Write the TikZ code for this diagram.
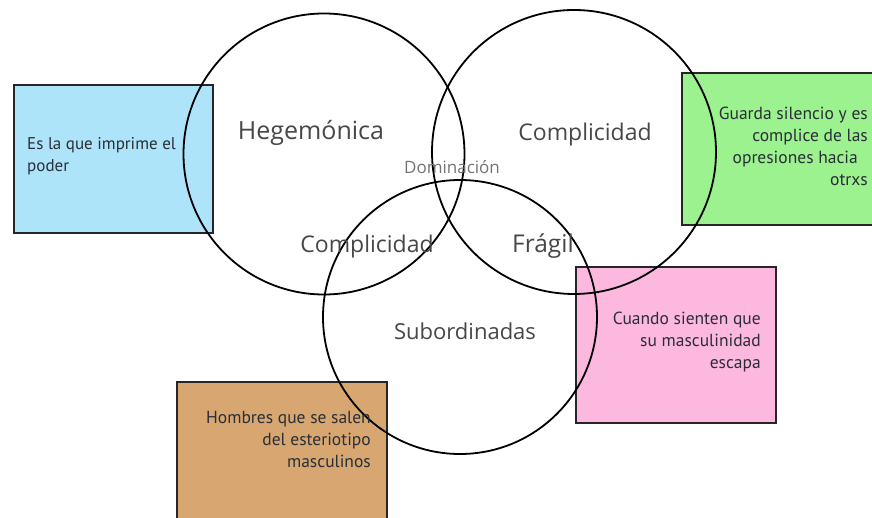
\documentclass[tikz,border=0pt]{standalone}
\usepackage{fontspec}
\setmainfont{Open Sans}
\newfontfamily\kastenfont{PT Sans}
\definecolor{hellblau}{HTML}{AEE4FA}
\definecolor{hellgruen}{HTML}{9BF28F}
\definecolor{rosa}{HTML}{FDB8E0}
\definecolor{braun}{HTML}{D8A670}
\definecolor{schrift}{HTML}{2A2E36}
\begin{document}
\begin{tikzpicture}[x=1pt, y=-1pt,
  kreis/.style={draw=black, line width=1.8pt, circle, inner sep=0pt},
  kasten/.style={draw=black!85, line width=1.8pt, anchor=north west, inner sep=0pt},
  gross/.style={font=\fontsize{23}{26}\selectfont, text=black!72, inner sep=0pt},
  klein/.style={font=\fontsize{17}{18}\selectfont, text=black!55, inner sep=0pt},
  kastentext/.style={font=\kastenfont\fontsize{17.5}{22}\selectfont, text=schrift,
    inner sep=0pt},
  ]
\clip (0,0) rectangle (872,518);
\fill[white] (0,0) rectangle (872,518);
%Kaesten
\node[kasten, fill=hellblau, minimum width=199pt, minimum height=148pt] (blau) at (13,84) {};
\node[kasten, fill=hellgruen, minimum width=200pt, minimum height=152pt] (gruen) at (681,72) {};
\node[kasten, fill=rosa, minimum width=200pt, minimum height=156pt] (pink) at (575,266) {};
\node[kasten, fill=braun, minimum width=210pt, minimum height=150pt] (braun) at (176,381) {};
%Kreise
\node[kreis, minimum size=281pt] (kreisa) at (324,154) {};
\node[kreis, minimum size=284pt] (kreisb) at (574,152) {};
\node[kreis, minimum size=274pt] (kreisc) at (460,317) {};
%Texte in den Kreisen
\node[gross, font=\fontsize{25}{28}\selectfont] (hegemonica) at (311,133) {Hegemónica};
\node[gross] (complicidadoben) at (585,135) {Complicidad};
\node[klein] (dominacion) at (452,167) {Dominación};
\node[gross] (complicidadunten) at (367,247) {Complicidad};
\node[gross, font=\fontsize{24.5}{28}\selectfont] (fragil) at (543,246) {Frágil};
\node[gross, font=\fontsize{22}{26}\selectfont] (subordinadas) at (465,331) {Subordinadas};
%Texte in den Kaesten
\node[kastentext, font=\kastenfont\fontsize{17}{22}\selectfont, anchor=west] (blautext) at (27,156)
  {\begin{tabular}{@{}l@{}}Es la que imprime el\\poder\end{tabular}};
\node[kastentext, anchor=east] (gruentext) at (868,148)
  {\begin{tabular}{@{}r@{}}Guarda silencio y es\\complice de las\\opresiones hacia\hspace*{10pt}\\otrxs\end{tabular}};
\node[kastentext, anchor=east] (pinktext) at (761,342)
  {\begin{tabular}{@{}r@{}}Cuando sienten que\\su masculinidad\\escapa\end{tabular}};
\node[kastentext, anchor=east] (brauntext) at (371,441)
  {\begin{tabular}{@{}r@{}}Hombres que se salen\\del esteriotipo\\masculinos\end{tabular}};
\end{tikzpicture}
\end{document}
